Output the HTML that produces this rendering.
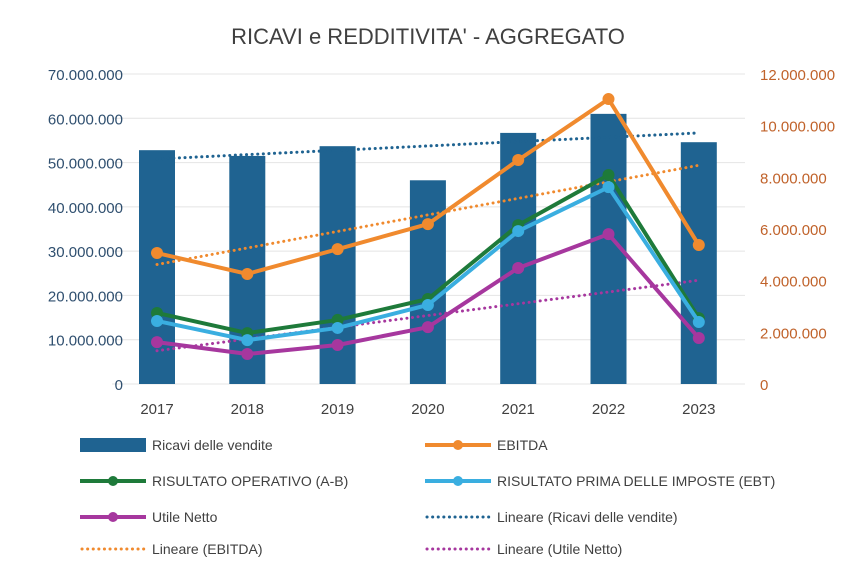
<!DOCTYPE html>
<html><head><meta charset="utf-8"><style>
html,body{margin:0;padding:0;background:#fff;}
svg{display:block;font-family:"Liberation Sans",sans-serif;}
</style></head><body>
<svg id="chart" width="856" height="576" viewBox="0 0 856 576">
<text x="428" y="44" text-anchor="middle" font-size="22" fill="#404040">RICAVI e REDDITIVITA' - AGGREGATO</text>
<g id="grid"></g><g id="bars"></g><g id="trends"></g><g id="lines"></g><g id="axes"></g><g id="legend"></g>
</svg>
<script>
const categories=['2017','2018','2019','2020','2021','2022','2023'];
const ricavi=[52800000,51500000,53700000,46000000,56700000,61000000,54600000];
const ebitda=[5070000,4260000,5220000,6190000,8670000,11030000,5380000];
const risOperativo=[2750000,1970000,2480000,3290000,6150000,8090000,2550000];
const ebt=[2440000,1700000,2170000,3060000,5920000,7620000,2400000];
const utile=[1620000,1160000,1510000,2200000,4490000,5800000,1780000];
const leftTicks=['0','10.000.000','20.000.000','30.000.000','40.000.000','50.000.000','60.000.000','70.000.000'];
const rightTicks=['0','2.000.000','4.000.000','6.000.000','8.000.000','10.000.000','12.000.000'];
const NS='http://www.w3.org/2000/svg';
const y0=384,yTop=74;
const yL=v=>y0-(v/70000000)*(y0-yTop);
const yR=v=>y0-(v/12000000)*(y0-yTop);
const xC=i=>157+i*90.3;
function mk(tag,attrs,parent){const e=document.createElementNS(NS,tag);for(const k in attrs)e.setAttribute(k,attrs[k]);parent.appendChild(e);return e;}
const G=id=>document.getElementById(id);
leftTicks.forEach((t,i)=>{const y=yL(i*10000000);
 const l=mk('line',{x1:112,x2:745,y1:y,y2:y,stroke:'#e4e4e4','stroke-width':1},G('grid'));
 
 const tx=mk('text',{x:123,y:y+6,'text-anchor':'end','font-size':15,fill:'#2f4f6f'},G('axes'));tx.textContent=t;
 });
rightTicks.forEach((t,i)=>{const y=yR(i*2000000);
 const tx=mk('text',{x:760,y:y+6,'font-size':15,fill:'#c0622a'},G('axes'));tx.textContent=t;
 });
categories.forEach((c,i)=>{const tx=mk('text',{x:xC(i),y:414,'text-anchor':'middle','font-size':15,fill:'#404040'},G('axes'));tx.textContent=c;
 
 const r=mk('rect',{x:xC(i)-18,y:yL(ricavi[i]),width:36,height:y0-yL(ricavi[i]),fill:'#1f6391'},G('bars'));
 });
function trend(arr){const n=arr.length;let sx=0,sy=0,sxy=0,sxx=0;arr.forEach((v,i)=>{sx+=i;sy+=v;sxy+=i*v;sxx+=i*i;});
 const b=(n*sxy-sx*sy)/(n*sxx-sx*sx),a=(sy-b*sx)/n;return [a,a+b*(n-1)];}
function drawTrend(arr,ys,color,name){const [a,b]=trend(arr);
 const l=mk('line',{x1:xC(0),x2:xC(6),y1:ys(a),y2:ys(b),stroke:color,'stroke-width':3,'stroke-dasharray':'0.1 5.5','stroke-linecap':'round'},G('trends'));
 }
drawTrend(ricavi,yL,'#1f6391','trend-ricavi');
drawTrend(ebitda,yR,'#f08a2e','trend-ebitda');
drawTrend(utile,yR,'#a6379e','trend-utile');
function drawLine(arr,color,name){const pts=arr.map((v,i)=>xC(i)+','+yR(v)).join(' ');
 const p=mk('polyline',{points:pts,fill:'none',stroke:color,'stroke-width':4,'stroke-linejoin':'round'},G('lines'));
 
 arr.forEach((v,i)=>{const c=mk('circle',{cx:xC(i),cy:yR(v),r:6,fill:color},G('lines'));
  });}
drawLine(utile,'#a6379e','utile-netto');
drawLine(risOperativo,'#1e7a3a','risultato-operativo');
drawLine(ebt,'#3aaee0','ebt');
drawLine(ebitda,'#f08a2e','ebitda');
const legendItems=[
 ['bar','#1f6391','Ricavi delle vendite',80,445],['line','#f08a2e','EBITDA',425,445],
 ['line','#1e7a3a','RISULTATO OPERATIVO (A-B)',80,481],['line','#3aaee0','RISULTATO PRIMA DELLE IMPOSTE  (EBT)',425,481],
 ['line','#a6379e','Utile Netto',80,517],['dot','#1f6391','Lineare (Ricavi delle vendite)',425,517],
 ['dot','#f08a2e','Lineare (EBITDA)',80,549],['dot','#a6379e','Lineare (Utile Netto)',425,549]];
legendItems.forEach(it=>{const [t,c,label,x,y]=it;const g=mk('g',{},G('legend'));
 
 if(t==='bar')mk('rect',{x:x,y:y-7,width:66,height:14,fill:c},g);
 else if(t==='line'){mk('line',{x1:x,x2:x+66,y1:y,y2:y,stroke:c,'stroke-width':4},g);mk('circle',{cx:x+33,cy:y,r:5,fill:c},g);}
 else mk('line',{x1:x+2,x2:x+64,y1:y,y2:y,stroke:c,'stroke-width':3,'stroke-dasharray':'0.1 5.5','stroke-linecap':'round'},g);
 const tx=mk('text',{x:x+72,y:y+5,'font-size':14,fill:'#404040'},g);tx.textContent=label;});
</script>
</body></html>
